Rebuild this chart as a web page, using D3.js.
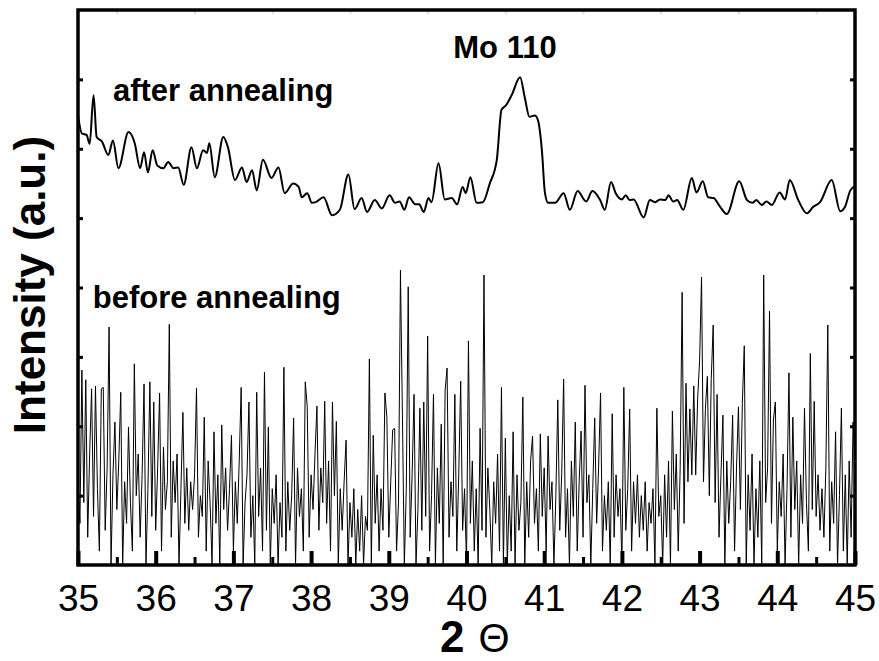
<!DOCTYPE html>
<html>
<head>
<meta charset="utf-8">
<script src="https://cdn.jsdelivr.net/npm/d3@7"></script>
<style>
  body { margin: 0; background: #fff; }
  svg { display: block; font-family: "Liberation Sans", Arial, sans-serif; }
</style>
</head>
<body>
<div id="chart"></div>
<script>
// x ticks (2 theta, degrees)
const xMajorTicks = [35, 36, 37, 38, 39, 40, 41, 42, 43, 44, 45];
const xMinorTicks = [35.5, 36.5, 37.5, 38.5, 39.5, 40.5, 41.5, 42.5, 43.5, 44.5];
const yTicks = [1, 2, 3, 4, 5, 6, 7];

// after annealing: [2theta, intensity]
const afterData = [
  [35.00, 6.48], [35.05, 6.22], [35.11, 6.20], [35.15, 6.07], [35.20, 6.77], [35.24, 6.17],
  [35.31, 6.10], [35.39, 5.91], [35.45, 6.12], [35.52, 5.72], [35.65, 6.24], [35.73, 6.08],
  [35.80, 5.72], [35.85, 5.95], [35.90, 5.66], [35.96, 5.98], [36.02, 5.76], [36.10, 5.72],
  [36.16, 5.81], [36.23, 5.72], [36.29, 5.73], [36.36, 5.48], [36.46, 6.02], [36.53, 5.72],
  [36.61, 5.98], [36.66, 5.94], [36.69, 6.08], [36.76, 5.59], [36.87, 6.17], [36.93, 6.02],
  [37.02, 5.55], [37.11, 5.73], [37.17, 5.52], [37.24, 5.69], [37.30, 5.40], [37.38, 5.84],
  [37.49, 5.58], [37.58, 5.73], [37.66, 5.36], [37.77, 5.50], [37.84, 5.45], [37.88, 5.30],
  [37.95, 5.36], [38.01, 5.22], [38.06, 5.23], [38.16, 5.30], [38.27, 5.04], [38.37, 5.12],
  [38.48, 5.63], [38.56, 5.13], [38.65, 5.29], [38.72, 5.09], [38.82, 5.26], [38.91, 5.14],
  [39.01, 5.33], [39.08, 5.22], [39.14, 5.24], [39.20, 5.12], [39.26, 5.30], [39.34, 5.20],
  [39.39, 5.20], [39.45, 5.09], [39.51, 5.29], [39.55, 5.23], [39.64, 5.79], [39.72, 5.27],
  [39.81, 5.29], [39.88, 5.20], [39.95, 5.45], [39.99, 5.36], [40.05, 5.59], [40.13, 5.22],
  [40.21, 5.23], [40.30, 5.50], [40.39, 5.84], [40.45, 6.56], [40.51, 6.63], [40.58, 6.77],
  [40.69, 7.03], [40.75, 6.74], [40.81, 6.46], [40.88, 6.48], [40.92, 6.41], [40.97, 5.98],
  [41.01, 5.36], [41.05, 5.22], [41.14, 5.22], [41.25, 5.36], [41.33, 5.12], [41.43, 5.39],
  [41.54, 5.24], [41.62, 5.39], [41.72, 5.26], [41.78, 5.12], [41.86, 5.52], [41.92, 5.36],
  [42.00, 5.27], [42.05, 5.33], [42.10, 5.26], [42.15, 5.27], [42.28, 5.01], [42.36, 5.26],
  [42.43, 5.23], [42.49, 5.27], [42.56, 5.26], [42.60, 5.33], [42.66, 5.24], [42.71, 5.26],
  [42.79, 5.12], [42.90, 5.58], [42.96, 5.37], [43.04, 5.53], [43.11, 5.30], [43.18, 5.29],
  [43.26, 5.17], [43.35, 5.06], [43.51, 5.53], [43.61, 5.26], [43.68, 5.22], [43.73, 5.26],
  [43.80, 5.19], [43.86, 5.24], [43.93, 5.19], [44.03, 5.37], [44.10, 5.27], [44.16, 5.55],
  [44.27, 5.26], [44.38, 5.07], [44.46, 5.16], [44.55, 5.23], [44.70, 5.55], [44.81, 5.10],
  [44.87, 5.16], [44.94, 5.40], [45.00, 5.46]
];

// before annealing: scan from 35 to 45 deg, step 0.025 deg
const beforeStart = 35;
const beforeStep = 0.025;
const beforeValues = [
  1.2, 0.6, 2.81, 0.9, 2.67, 0.4, 1.6, 2.54, 0.7, 2.58, 1.1, 0.2, 2.54, 2.56, 0.5, 1.4, 3.43, 0.0, 1.3, 2.06,
  0.8, 1.5, 2.49, 0.0, 1.2, 0.6, 1.99, 0.9, 0.2, 2.90, 1.0, 1.6, 0.4, 1.3, 2.61, 0.0, 1.1, 2.64, 0.7, 2.35,
  0.5, 1.4, 2.48, 0.2, 1.7, 0.8, 1.2, 3.47, 0.4, 1.5, 0.9, 1.6, 0.0, 1.1, 2.20, 0.6, 1.4, 0.5, 1.2, 0.8,
  1.3, 2.55, 0.4, 1.0, 0.7, 2.13, 0.2, 1.5, 0.9, 0.0, 1.92, 0.6, 1.3, 0.0, 2.02, 0.8, 1.4, 0.5, 1.1, 1.87,
  0.2, 1.2, 0.6, 1.5, 2.56, 0.0, 0.9, 1.3, 2.35, 0.4, 1.0, 0.0, 2.49, 0.7, 1.4, 0.2, 2.78, 0.5, 1.99, 0.0,
  1.1, 0.6, 1.3, 0.0, 0.9, 0.4, 2.85, 0.2, 1.2, 0.5, 1.0, 2.12, 0.0, 1.4, 0.7, 1.1, 0.2, 2.64, 2.29, 0.4,
  1.3, 0.8, 1.6, 2.29, 0.5, 1.4, 0.9, 2.36, 0.6, 1.5, 0.2, 2.35, 1.0, 2.07, 0.0, 1.1, 0.5, 1.2, 1.80, 0.0,
  0.9, 0.4, 1.1, 0.0, 0.8, 0.2, 1.0, 0.0, 0.7, 0.5, 2.97, 0.0, 1.87, 0.6, 1.3, 0.2, 1.1, 0.5, 2.48, 2.13,
  0.4, 1.2, 1.95, 1.97, 0.2, 0.9, 4.25, 2.18, 0.0, 1.1, 4.01, 0.4, 1.3, 2.46, 0.0, 0.8, 2.26, 0.5, 2.35, 0.7,
  3.30, 0.2, 1.0, 2.46, 0.0, 1.4, 0.6, 2.03, 0.0, 2.52, 2.84, 0.4, 1.2, 0.7, 2.46, 0.2, 1.3, 2.65, 0.5, 1.1,
  0.0, 3.23, 0.6, 1.5, 0.2, 1.1, 0.0, 1.97, 0.5, 4.18, 0.4, 1.4, 0.8, 0.0, 1.2, 0.6, 1.6, 0.2, 2.56, 0.0,
  1.83, 0.0, 1.0, 0.2, 1.92, 0.0, 1.3, 0.5, 0.9, 2.42, 0.0, 1.2, 0.4, 1.5, 1.86, 0.6, 1.1, 0.2, 1.89, 0.7,
  1.4, 0.2, 1.86, 0.8, 1.2, 0.0, 1.0, 2.38, 0.5, 1.3, 2.68, 0.4, 1.1, 0.0, 1.5, 0.7, 2.06, 0.2, 1.2, 1.93,
  0.4, 2.59, 0.9, 1.3, 0.0, 1.1, 2.12, 0.6, 1.4, 2.48, 0.2, 1.0, 0.5, 1.2, 0.0, 2.18, 0.4, 1.3, 0.7, 1.1,
  0.0, 2.56, 0.5, 1.1, 2.25, 0.2, 1.2, 0.6, 1.3, 0.4, 1.0, 0.5, 1.2, 0.2, 0.9, 0.6, 1.1, 0.0, 2.26, 0.7,
  1.0, 0.0, 1.3, 0.4, 1.5, 0.0, 2.22, 0.8, 1.6, 0.2, 1.4, 3.93, 0.6, 2.62, 1.2, 2.25, 1.3, 2.58, 1.3, 2.41,
  2.94, 4.15, 1.2, 2.26, 2.72, 1.0, 2.69, 3.46, 0.9, 2.46, 0.4, 1.3, 2.16, 0.0, 1.5, 0.6, 1.2, 2.16, 0.2, 1.4,
  2.28, 0.8, 2.33, 3.16, 0.0, 1.3, 0.5, 1.6, 0.0, 1.1, 0.4, 1.5, 0.0, 4.18, 0.9, 1.4, 3.66, 0.6, 2.09, 2.35,
  0.2, 1.2, 0.7, 1.6, 0.0, 1.1, 2.77, 0.4, 2.13, 0.8, 1.5, 0.0, 1.3, 0.6, 2.26, 0.9, 0.2, 3.05, 0.8, 2.36,
  0.7, 1.3, 0.5, 1.1, 0.4, 1.4, 3.46, 0.2, 1.2, 0.6, 1.92, 0.0, 1.0, 2.26, 0.2, 1.3, 0.0, 1.5, 0.4, 2.06, 1.5
];

const labels = [
  { text: "after annealing", x: 35.45, y: 6.69 },
  { text: "before annealing", x: 35.19, y: 3.70 },
  { text: "Mo 110", x: 39.83, y: 7.31 }
];

const margin = { top: 10, right: 24, bottom: 96, left: 78 };
const width = 879 - margin.left - margin.right;
const height = 661 - margin.top - margin.bottom;

const svg = d3.select("#chart").append("svg")
  .attr("width", 879)
  .attr("height", 661);

const g = svg.append("g")
  .attr("transform", `translate(${margin.left},${margin.top})`);

const x = d3.scaleLinear().domain([35, 45]).range([0, width]);
const y = d3.scaleLinear().domain([0, 8]).range([height, 0]);

g.append("clipPath").attr("id", "clip")
  .append("rect").attr("width", width).attr("height", height);

const beforeData = beforeValues.map((v, i) => [beforeStart + i * beforeStep, v]);

// before annealing trace
g.append("path")
  .datum(beforeData)
  .attr("clip-path", "url(#clip)")
  .attr("fill", "none")
  .attr("stroke", "#000")
  .attr("stroke-width", 1)
  .attr("d", d3.line().x(d => x(d[0])).y(d => y(d[1])));

// after annealing trace
g.append("path")
  .datum(afterData)
  .attr("clip-path", "url(#clip)")
  .attr("fill", "none")
  .attr("stroke", "#000")
  .attr("stroke-width", 2)
  .attr("d", d3.line().curve(d3.curveMonotoneX).x(d => x(d[0])).y(d => y(d[1])));

// faint top minor ticks
g.append("g")
  .call(d3.axisTop(x).tickValues(xMinorTicks).tickSize(-4).tickFormat(""))
  .call(a => a.select(".domain").remove())
  .selectAll("line").attr("stroke", "#ddd").attr("stroke-width", 2);

// bottom axis
const xAxis = g.append("g")
  .attr("transform", `translate(0,${height})`)
  .call(d3.axisBottom(x).tickValues(xMajorTicks).tickSize(-14).tickSizeOuter(0).tickPadding(20));
xAxis.select(".domain").remove();
xAxis.selectAll("line").attr("stroke-width", 4);
xAxis.selectAll("text")
  .style("font-size", "37px")
  .style("font-family", "'Liberation Sans', Arial, sans-serif")
  .attr("fill", "#000");

g.append("g")
  .attr("transform", `translate(0,${height})`)
  .call(d3.axisBottom(x).tickValues(xMinorTicks).tickSize(-8).tickFormat(""))
  .call(a => a.select(".domain").remove())
  .selectAll("line").attr("stroke-width", 3);

// left and right ticks
g.append("g")
  .call(d3.axisLeft(y).tickValues(yTicks).tickSize(-5).tickFormat(""))
  .call(a => a.select(".domain").remove())
  .selectAll("line").attr("stroke-width", 3);

g.append("g")
  .attr("transform", `translate(${width},0)`)
  .call(d3.axisRight(y).tickValues(yTicks).tickSize(-5).tickFormat(""))
  .call(a => a.select(".domain").remove())
  .selectAll("line").attr("stroke-width", 3);

// frame
g.append("rect")
  .attr("width", width)
  .attr("height", height)
  .attr("fill", "none")
  .attr("stroke", "#000")
  .attr("stroke-width", 3.5);

// annotations
g.selectAll(".ann")
  .data(labels)
  .enter().append("text")
  .attr("class", "ann")
  .attr("x", d => x(d.x))
  .attr("y", d => y(d.y))
  .style("font-size", "31px")
  .style("font-weight", "bold")
  .text(d => d.text);

// x label
const xl = svg.append("text")
  .attr("x", 440)
  .attr("y", 652);
xl.append("tspan").style("font-size", "44px").style("font-weight", "bold").text("2");
xl.append("tspan").attr("dx", 14).style("font-size", "40px").text("Θ");

// y label
svg.append("text")
  .attr("transform", "translate(45,285) rotate(-90)")
  .attr("text-anchor", "middle")
  .style("font-size", "44px")
  .style("font-weight", "bold")
  .text("Intensity (a.u.)");
</script>
</body>
</html>
